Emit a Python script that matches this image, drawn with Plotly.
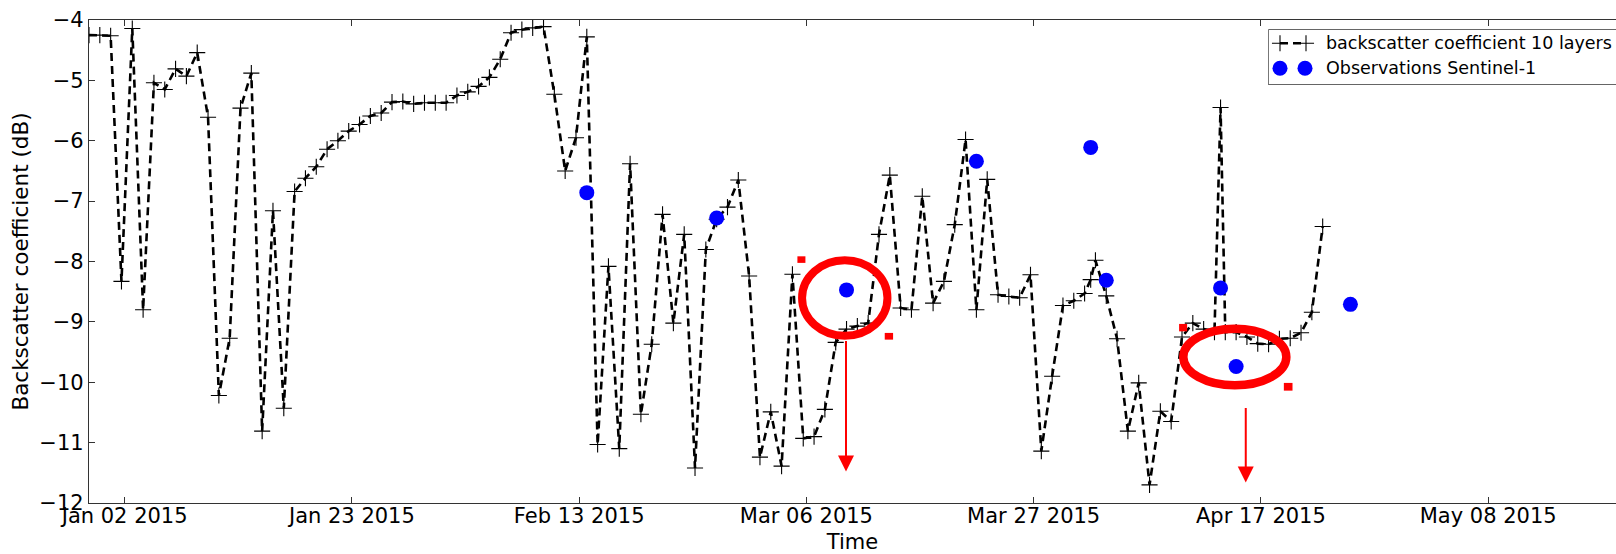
import pandas as pd
import plotly.graph_objects as go

# ---------------------------------------------------------------------------
# Simulated backscatter (10-layer model): one value per day at 17:00,
# from 2014-12-29 to 2015-04-22
model_start = "2014-12-29 17:00"
model_values = [
    -4.25, -4.25, -4.26, -8.33,                                          # Dec 29 - Jan 01
    -4.14, -8.80, -5.04, -5.15, -4.81, -4.93, -4.54, -5.61, -10.22, -9.27,  # Jan 02 - Jan 11
    -5.46, -4.88, -10.81, -7.16, -10.43, -6.84, -6.62, -6.43, -6.14, -6.00,  # Jan 12 - Jan 21
    -5.84, -5.73, -5.59, -5.54, -5.36, -5.35, -5.39, -5.37, -5.37, -5.37,    # Jan 22 - Jan 31
    -5.25, -5.19, -5.10, -4.95, -4.65, -4.21, -4.16, -4.13, -4.11, -5.23,    # Feb 01 - Feb 10
    -6.50, -5.95, -4.28, -11.03, -8.08, -11.10, -6.38, -10.53, -9.37, -7.22,  # Feb 11 - Feb 20
    -9.02, -7.55, -11.42, -7.80, -7.30, -7.10, -6.65, -8.24, -11.24, -10.49,  # Feb 21 - Mar 02
    -11.39, -8.21, -10.93, -10.90, -10.45, -9.34, -9.12, -9.07, -9.02, -7.55,  # Mar 03 - Mar 12
    -6.57, -8.77, -8.80, -6.92, -8.69, -8.33, -7.39, -5.98, -8.80, -6.64,    # Mar 13 - Mar 22
    -8.55, -8.58, -8.60, -8.22, -11.14, -9.90, -8.73, -8.65, -8.53, -7.98,   # Mar 23 - Apr 01
    -8.57, -9.28, -10.81, -10.01, -11.70, -10.48, -10.65, -9.25, -9.02, -9.12,  # Apr 02 - Apr 11
    -9.17, -9.17, -9.17, -9.25, -9.36, -9.37, -9.28, -9.27, -9.18, -8.84, -7.42,  # Apr 12 - Apr 22
]
# extra model outputs at the morning overpass times
model_extra_times = ["2015-04-01 06:30", "2015-04-13 06:30"]
model_extra_values = [-8.30, -5.45]

# Sentinel-1 observations
obs_times = [
    "2015-02-13 17:00", "2015-02-25 17:00", "2015-03-09 17:00", "2015-03-21 17:00",
    "2015-04-01 06:30", "2015-04-02 17:00", "2015-04-13 06:30", "2015-04-14 17:00",
    "2015-04-25 06:30",
]
obs_values = [-6.86, -7.28, -8.47, -6.34, -6.11, -8.31, -8.44, -9.74, -8.71]

# axis ticks
x_tick_dates = ["2015-01-02", "2015-01-23", "2015-02-13", "2015-03-06",
                "2015-03-27", "2015-04-17", "2015-05-08"]
x_tick_labels = ["Jan 02 2015", "Jan 23 2015", "Feb 13 2015", "Mar 06 2015",
                 "Mar 27 2015", "Apr 17 2015", "May 08 2015"]
y_tick_values = [-12, -11, -10, -9, -8, -7, -6, -5, -4]
y_tick_labels = ["\u221212", "\u221211", "\u221210", "\u22129", "\u22128",
                 "\u22127", "\u22126", "\u22125", "\u22124"]

series_name = "backscatter coefficient 10 layers"
obs_name = "Observations Sentinel-1"

# ---------------------------------------------------------------------------
model = pd.Series(model_values,
                  index=pd.date_range(model_start, periods=len(model_values), freq="D"))
extra = pd.Series(model_extra_values, index=pd.to_datetime(model_extra_times))
model = pd.concat([model, extra]).sort_index()

x_start = pd.Timestamp(model_start)
x_end = pd.Timestamp("2015-05-19 19:30")

base = pd.Timestamp("2015-01-02")


def at(day):
    """Timestamp `day` days after Jan 02 2015, as a string for shapes."""
    return (base + pd.Timedelta(days=day)).strftime("%Y-%m-%d %H:%M:%S")


FONT = "DejaVu Sans"
SPINE = "#333333"
RED = "#ff0000"
LINE = dict(color="black", width=2.6, dash="8px,5px")
CROSS = dict(symbol="cross-thin", size=11.5, color="black",
             line=dict(color="black", width=1.1))
DOT = dict(symbol="circle", size=15, color="#0000ff", line=dict(width=0))

fig = go.Figure()

fig.add_trace(go.Scatter(
    x=model.index, y=model.values, mode="lines+markers", name=series_name,
    line=LINE, marker=CROSS, showlegend=False,
))
fig.add_trace(go.Scatter(
    x=pd.to_datetime(obs_times), y=obs_values, mode="markers", name=obs_name,
    marker=DOT, showlegend=False,
))

# ---- matplotlib-style legend in a small inset (units: pixels of the box)
LEG_W, LEG_H = 347.7, 55.7
row1, row2 = 41.7, 16.7
fig.add_trace(go.Scatter(
    x=[11.7, 37.7], y=[row1, row1], mode="lines+markers", xaxis="x2", yaxis="y2",
    line=LINE, marker=CROSS, showlegend=False, hoverinfo="skip",
))
fig.add_trace(go.Scatter(
    x=[11.7, 36.7], y=[row2, row2], mode="markers", xaxis="x2", yaxis="y2",
    marker=DOT, showlegend=False, hoverinfo="skip",
))
for label, yy in ((series_name, row1), (obs_name, row2)):
    fig.add_annotation(x=55.7, y=yy, xref="x2", yref="y2", text=label,
                       showarrow=False, xanchor="left", yanchor="middle",
                       font=dict(family=FONT, size=17.5, color="black"))
fig.add_shape(type="rect", xref="x2", yref="y2", x0=0, x1=LEG_W + 20,
              y0=0, y1=LEG_H, line=dict(color=SPINE, width=1.3),
              fillcolor="rgba(0,0,0,0)", layer="above")

# ---- red highlight marks
ellipses = [
    (62.60, 70.49, -9.23, -7.98, 8),
    (97.83, 107.35, -10.05, -9.115, 8.5),
]
for d0, d1, v0, v1, w in ellipses:
    fig.add_shape(type="circle", xref="x", yref="y", x0=at(d0), x1=at(d1),
                  y0=v0, y1=v1, line=dict(color=RED, width=w), layer="above")

handles = [
    (62.17, 62.91, -8.023, -7.914),
    (70.24, 71.01, -9.294, -9.183),
    (97.44, 98.18, -9.157, -9.034),
    (107.12, 107.92, -10.139, -10.011),
]
for d0, d1, v0, v1 in handles:
    fig.add_shape(type="rect", xref="x", yref="y", x0=at(d0), x1=at(d1),
                  y0=v0, y1=v1, line=dict(width=0), fillcolor=RED, layer="above")

arrows = [
    (66.66, -9.29, -11.48),
    (103.6, -10.40, -11.66),
]
for d, v_from, v_to in arrows:
    fig.add_annotation(x=at(d), y=v_to, ax=at(d), ay=v_from, xref="x", yref="y",
                       axref="x", ayref="y", text="", showarrow=True,
                       arrowhead=2, arrowsize=1.6, arrowwidth=2, arrowcolor=RED)

fig.update_layout(
    template="none",
    width=1616, height=554,
    margin=dict(l=89, r=0, t=20, b=51),
    paper_bgcolor="white", plot_bgcolor="rgba(0,0,0,0)",
    font=dict(family=FONT, size=21, color="black"),
    showlegend=False,
    xaxis=dict(
        type="date", range=[x_start, x_end],
        tickvals=pd.to_datetime(x_tick_dates), ticktext=x_tick_labels,
        ticks="inside", ticklen=6, tickwidth=1, tickcolor=SPINE,
        ticklabelstandoff=-6,
        showline=True, linecolor=SPINE, linewidth=1.3, mirror="ticks",
        showgrid=False, zeroline=False, automargin=False,
        tickfont=dict(family=FONT, size=21, color="black"),
        title=dict(text="Time", font=dict(family=FONT, size=21, color="black"),
                   standoff=14),
    ),
    yaxis=dict(
        range=[-12, -4], tickvals=y_tick_values, ticktext=y_tick_labels,
        ticks="inside", ticklen=6, tickwidth=1, tickcolor=SPINE,
        showline=True, linecolor=SPINE, linewidth=1.3, mirror=False,
        showgrid=False, zeroline=False, automargin=False,
        tickfont=dict(family=FONT, size=21, color="black"),
        title=dict(text="Backscatter coefficient (dB)",
                   font=dict(family=FONT, size=21.5, color="black"), standoff=4),
    ),
    xaxis2=dict(domain=[(1268.3 - 89) / 1527, 1.0], range=[0, LEG_W],
                anchor="y2", visible=False, fixedrange=True),
    yaxis2=dict(domain=[(503 - 85) / 483, (503 - 29.3) / 483], range=[0, LEG_H],
                anchor="x2", visible=False, fixedrange=True),
)

fig.write_html("out.html")
